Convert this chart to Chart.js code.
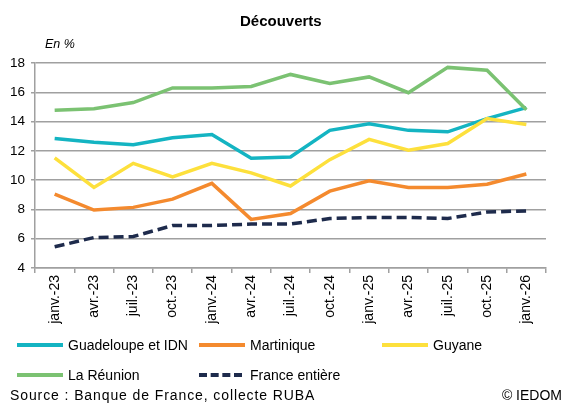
<!DOCTYPE html>
<html>
<head>
<meta charset="utf-8">
<script src="https://cdn.jsdelivr.net/npm/chart.js@4/dist/chart.umd.min.js"></script>
<style>
	body { margin: 0; background: #fff; font-family: "Liberation Sans", Arial, sans-serif; }
	#wrap { position: relative; width: 563px; height: 403px; overflow: hidden; }
	#chart { position: absolute; left: 0; top: 0; }
	.txt { position: absolute; color: #000; white-space: nowrap; line-height: 18px; height: 18px; }
	.leg { position: absolute; font-size: 14px; height: 18px; line-height: 18px; white-space: nowrap; }
	.sw { position: absolute; top: 7px; left: 0; width: 46px; height: 0; border-top: 4px solid; }
	.leg span { position: absolute; left: 51px; top: 0; }
</style>
</head>
<body>
<div id="wrap">
	<canvas id="chart" width="563" height="403"></canvas>
	<div class="txt" style="left:240px;top:12px;font-weight:bold;font-size:15px">Découverts</div>
	<div class="txt" style="left:45px;top:35px;font-style:italic;font-size:12.5px">En %</div>
	<div id="legend"></div>
	<div class="txt" style="left:10px;top:386px;font-size:14px;letter-spacing:0.9px">Source : Banque de France, collecte RUBA</div>
	<div class="txt" style="right:1px;top:386px;font-size:14px">© IEDOM</div>
</div>
<script>
	const labels = ['janv.-23', 'avr.-23', 'juil.-23', 'oct.-23', 'janv.-24', 'avr.-24', 'juil.-24', 'oct.-24', 'janv.-25', 'avr.-25', 'juil.-25', 'oct.-25', 'janv.-26'];

	const guadeloupe = [12.85, 12.58, 12.42, 12.9, 13.12, 11.5, 11.58, 13.4, 13.85, 13.4, 13.3, 14.2, 14.95];
	const martinique = [9.05, 7.96, 8.14, 8.7, 9.78, 7.32, 7.72, 9.25, 9.95, 9.5, 9.5, 9.72, 10.42];
	const guyane = [11.52, 9.5, 11.15, 10.22, 11.15, 10.5, 9.6, 11.4, 12.78, 12.05, 12.5, 14.2, 13.8];
	const reunion = [14.78, 14.88, 15.3, 16.3, 16.3, 16.4, 17.22, 16.6, 17.05, 15.97, 17.7, 17.5, 14.8];
	const france = [5.45, 6.08, 6.15, 6.9, 6.9, 7.0, 7.0, 7.38, 7.45, 7.45, 7.38, 7.82, 7.9];

	const seriesNames = ['Guadeloupe et IDN', 'Martinique', 'Guyane', 'La Réunion', 'France entière'];
	const seriesColors = ['#14b4c2', '#f48a2e', '#fde03c', '#7bc272', '#1e2b4c'];

	const yMin = 4;
	const yMax = 18;
	const yStep = 2;

	const allSeries = [guadeloupe, martinique, guyane, reunion, france];

	const datasets = allSeries.map((values, i) => ({
		label: seriesNames[i],
		data: values,
		borderColor: seriesColors[i],
		backgroundColor: seriesColors[i],
		borderWidth: 3.5,
		borderDash: i === 4 ? [10, 5] : [],
		pointRadius: 0,
		tension: 0,
		fill: false
	}));

	// draw in reverse so Guadeloupe sits on top like the reference
	const ordered = datasets.slice().reverse();

	new Chart(document.getElementById('chart'), {
		type: 'line',
		data: { labels: labels, datasets: ordered },
		options: {
			responsive: false,
			animation: false,
			layout: { padding: { top: 63, right: 17, bottom: 65, left: 0 } },
			plugins: { legend: { display: false }, title: { display: false }, tooltip: { enabled: false } },
			scales: {
				x: {
					offset: true,
					afterFit: (scale) => { scale.height = 70; },
					border: { color: '#a0a0a0', width: 1.5 },
					grid: { offset: true, drawOnChartArea: false, drawTicks: true, tickLength: 5, color: '#a0a0a0', lineWidth: 1.5 },
					ticks: {
						minRotation: 90, maxRotation: 90, autoSkip: false, padding: 2,
						color: '#000', font: { family: '"Liberation Sans", Arial', size: 14 }
					}
				},
				y: {
					min: yMin, max: yMax,
					afterFit: (scale) => { scale.width = 35; },
					border: { color: '#a0a0a0', width: 1.5 },
					grid: { color: '#a0a0a0', lineWidth: 1.5, tickLength: 4 },
					ticks: {
						stepSize: yStep, padding: 6,
						color: '#000', font: { family: '"Liberation Sans", Arial', size: 13.5 }
					}
				}
			}
		}
	});

	// legend laid out like the source, three columns on two rows
	const legendPos = [[17, 336], [199, 336], [382, 336], [17, 366], [199, 366]];
	const legend = document.getElementById('legend');
	seriesNames.forEach((name, i) => {
		const item = document.createElement('div');
		item.className = 'leg';
		item.style.left = legendPos[i][0] + 'px';
		item.style.top = legendPos[i][1] + 'px';
		const style = i === 4 ? 'dashed' : 'solid';
		const w = i === 4 ? 'width:43px;' : '';
		item.innerHTML = `<div class="sw" style="${w}border-top-color:${seriesColors[i]};border-top-style:${style}"></div><span>${name}</span>`;
		legend.appendChild(item);
	});
</script>
</body>
</html>
